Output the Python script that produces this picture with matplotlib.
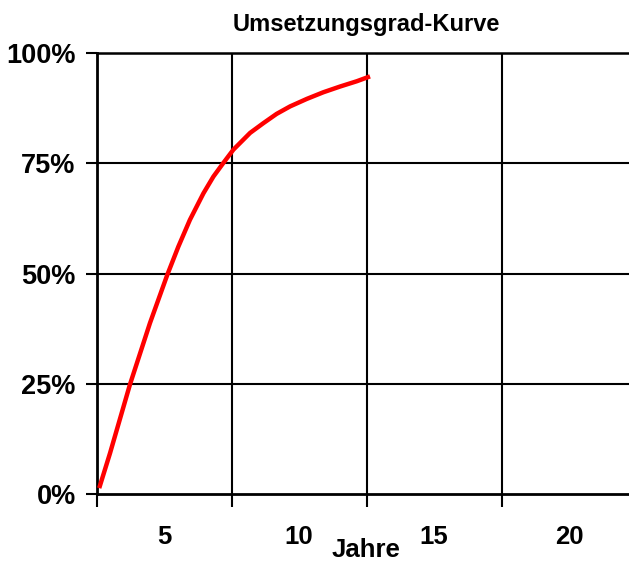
import matplotlib.pyplot as plt
from matplotlib.ticker import FixedLocator, NullFormatter, FixedFormatter

# --- Data ---
jahre = [2.6, 3.0, 3.74, 4.48, 5.12, 5.53, 5.96, 6.46, 6.83, 7.2,
         7.57, 8.19, 8.68, 9.17, 9.67, 10.29, 10.9, 11.52, 12.14, 12.63]
umsetzung = [1.4, 9.3, 24.9, 38.8, 49.7, 56.1, 62.2, 68.2, 72.0, 75.1,
             78.1, 81.9, 84.1, 86.2, 87.9, 89.6, 91.1, 92.4, 93.6, 94.7]

x_grid = [2.5, 7.5, 12.5, 17.5, 22.5]
x_labels = ["5", "10", "15", "20"]
x_label_pos = [5, 10, 15, 20]
y_ticks = [0, 25, 50, 75, 100]
y_labels = ["0%", "25%", "50%", "75%", "100%"]

plt.rcParams['font.family'] = ['Liberation Sans', 'DejaVu Sans']
plt.rcParams['font.weight'] = 'bold'

fig = plt.figure(figsize=(6.29, 5.70), dpi=100)
ax = fig.add_axes([96.5 / 629, 75.7 / 570, 540 / 629, 441.3 / 570])

ax.plot(jahre, umsetzung, color='#ff0000', lw=3.2, solid_capstyle='butt',
        solid_joinstyle='round', zorder=3, clip_on=False)

ax.set_xlim(2.5, 22.5)
ax.set_ylim(0, 100)

# grid lines
for xv in x_grid[1:]:
    ax.axvline(xv, color='black', lw=1.5, zorder=1)
for yv in y_ticks[1:]:
    ax.axhline(yv, color='black', lw=1.5, zorder=1)

ax.spines['right'].set_visible(False)
for s in ['left', 'bottom']:
    ax.spines[s].set_linewidth(2.0)
ax.spines['top'].set_linewidth(1.8)

# x: ticks on the grid lines, labels in between
ax.xaxis.set_major_locator(FixedLocator(x_grid))
ax.xaxis.set_major_formatter(NullFormatter())
ax.xaxis.set_minor_locator(FixedLocator(x_label_pos))
ax.xaxis.set_minor_formatter(FixedFormatter(x_labels))
ax.tick_params(axis='x', which='major', direction='out', length=9, width=1.5)
ax.tick_params(axis='x', which='minor', length=0, pad=22, labelsize=18.5)

ax.yaxis.set_major_locator(FixedLocator(y_ticks))
ax.yaxis.set_major_formatter(FixedFormatter(y_labels))
ax.tick_params(axis='y', direction='out', length=8, width=1.5, pad=7,
               labelsize=19.5)

ax.set_xlabel("Jahre", fontsize=18.5, fontweight='bold', labelpad=-8)
ax.set_title("Umsetzungsgrad-Kurve", fontsize=17, fontweight='bold', pad=16)

fig.savefig("out.png", dpi=100)
